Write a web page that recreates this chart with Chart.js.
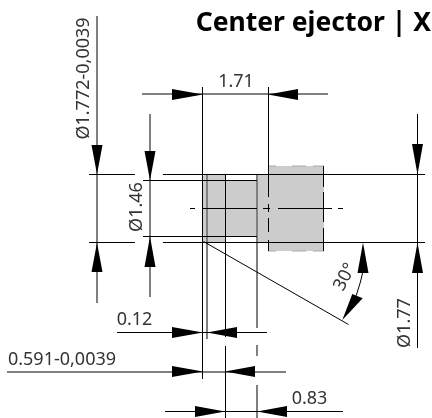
<!DOCTYPE html>
<html>
<head>
<meta charset="utf-8">
<style>html,body{margin:0;padding:0;background:#fff;overflow:hidden}canvas{display:block}</style>
<script src="https://cdn.jsdelivr.net/npm/chart.js@4"></script>
</head>
<body>
<canvas id="c" width="432" height="418"></canvas>
<script>
// Drawing values in sheet units, each item: [x1,y1,x2,y2,...]
const grayFills = [
  [203,176,205,174,225,174,225,243,205,243,203,241],
  [225,181,257,181,257,236,225,236],
  [257,174,268,174,268,243,257,243],
  [268,166,324,166,324,251,268,251]
];
const blackLines = [
  [89,174.5,135,174.5],[163,174.5,425,174.5],
  [89,242.5,135,242.5],[163,242.5,425,242.5],
  [143,180.5,257,180.5],[143,236.5,257,236.5],
  [190,208.5,195,208.5],[202,208.5,257,208.5],[263,208.5,270,208.5],[278,208.5,332,208.5],[338,208.5,343,208.5],
  [202.5,87,202.5,379],
  [225.5,175,225.5,337],[225.5,346,225.5,418],
  [268.5,87,268.5,197],[268.5,204,268.5,212],[268.5,218,268.5,232],[268.5,240,268.5,251],
  [323.5,166,323.5,187],[323.5,192,323.5,222],[323.5,228,323.5,251],
  [417.5,114,417.5,348],
  [117,332.5,267,332.5],
  [165,411.5,343,411.5],
  [203.5,241.5,348.5,324.5]
];
const grayLines = [
  [97,16,97,303],
  [150,114,150,297],
  [207,175,207,339],
  [257,175,257,328],[257,345,257,356],[257,385,257,418],
  [7,372,286,372],
  [142,94,328,94]
];
const hiddenEdges = [
  [183,174.5,194,174.5],[183,242.5,194,242.5],
  [268,166,276,166],[292,166,306,166],[313,166,324,166],
  [268,251,276,251],[292,251,306,251],[313,251,324,251]
];
const arcLine = [362.8,272,360.4,282,356.2,295.7];
const arrowHeads = [
  [91.5,145,102.5,145,97,174.5],[91.5,272,102.5,272,97,242.5],
  [144.5,151,155.5,151,150,180.5],[144.5,267,155.5,267,150,236.5],
  [412,144,423,144,417.5,174.5],[412,273,423,273,417.5,242.5],
  [357.5,273,368.5,273,363,242.5],
  [352.3,294,362.7,298.3,342.3,320],
  [172,89,172,100,203,94.5],[298,89,298,100,268,94.5],
  [172,327,172,338,203,332.5],[237,327,237,338,207,332.5],
  [172,366,172,377,203,371.5],[255,366,255,377,225,371.5],
  [195,406,195,417,225,411.5],[287,406,287,417,257,411.5]
];
const titleText = "Center ejector | X";
const labels = [
  {t:"Ø1.772-0,0039",x:84,y:78.5,r:-90},
  {t:"Ø1.46",x:137,y:207,r:-90},
  {t:"Ø1.77",x:405,y:323,r:-90},
  {t:"30°",x:345,y:277,r:-62},
  {t:"1.71",x:236,y:82,r:0},
  {t:"0.12",x:134.5,y:320,r:0},
  {t:"0.591-0,0039",x:62,y:360,r:0},
  {t:"0.83",x:309.5,y:398.5,r:0}
];

const toPoints = a => { const p=[]; for(let i=0;i<a.length;i+=2) p.push({x:a[i],y:a[i+1]}); return p; };
const datasets = [];
grayFills.forEach(f=>datasets.push({data:toPoints(f),showLine:true,fill:'shape',backgroundColor:'#cccccc',borderWidth:0,pointRadius:0,order:5}));
hiddenEdges.forEach(f=>datasets.push({data:toPoints(f),showLine:true,borderColor:'#aaaaaa',borderWidth:1,pointRadius:0,fill:false,order:4}));
grayLines.forEach(f=>datasets.push({data:toPoints(f),showLine:true,borderColor:'#808080',borderWidth:2,pointRadius:0,fill:false,order:3}));
blackLines.forEach(f=>datasets.push({data:toPoints(f),showLine:true,borderColor:'#000',borderWidth:1,pointRadius:0,fill:false,order:2}));
datasets.push({data:toPoints(arcLine),showLine:true,borderColor:'#000',borderWidth:1,pointRadius:0,fill:false,order:2});
arrowHeads.forEach(f=>datasets.push({data:toPoints(f),showLine:true,fill:'shape',backgroundColor:'#000',borderWidth:0,pointRadius:0,order:1}));

const textPlugin = {
  id:'drawingText',
  afterDatasetsDraw(chart){
    const {ctx,scales:{x,y}} = chart;
    ctx.save();
    ctx.fillStyle='#333';
    ctx.textAlign='center'; ctx.textBaseline='middle';
    ctx.font='18px "Noto Sans"';
    labels.forEach(l=>{
      ctx.save();
      ctx.translate(x.getPixelForValue(l.x),y.getPixelForValue(l.y));
      ctx.rotate(l.r*Math.PI/180);
      ctx.fillText(l.t,0,0);
      ctx.restore();
    });
    ctx.fillStyle='#000';
    ctx.font='bold 26.5px "Noto Sans"';
    ctx.textAlign='right';
    ctx.fillText(titleText,x.getPixelForValue(431),y.getPixelForValue(23.5));
    ctx.restore();
  }
};

new Chart(document.getElementById('c'),{
  type:'scatter',
  data:{datasets},
  options:{
    responsive:false,animation:false,devicePixelRatio:1,
    layout:{padding:0},
    plugins:{legend:{display:false},tooltip:{enabled:false},title:{display:false}},
    scales:{
      x:{type:'linear',min:0,max:432,display:false},
      y:{type:'linear',min:0,max:418,reverse:true,display:false}
    }
  },
  plugins:[textPlugin]
});
</script>
</body>
</html>
